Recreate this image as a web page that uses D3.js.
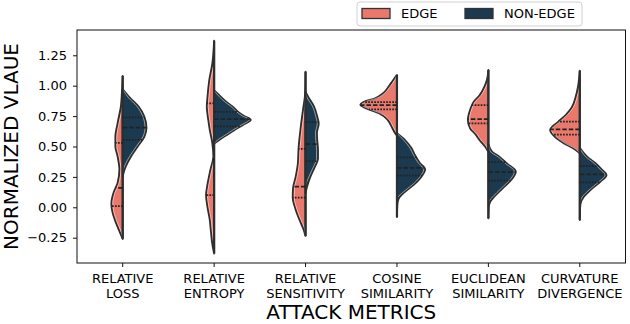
<!DOCTYPE html>
<html>
<head>
<meta charset="utf-8">
<title>Split violins</title>
<script src="https://cdn.jsdelivr.net/npm/d3@7"></script>
<style>
  body { margin: 0; background: #fff; }
  text { font-family: "DejaVu Sans", sans-serif; fill: #000; }
</style>
</head>
<body>
<script>
const metrics = ["RELATIVE\nLOSS", "RELATIVE\nENTROPY", "RELATIVE\nSENSITIVITY", "COSINE\nSIMILARITY", "EUCLIDEAN\nSIMILARITY", "CURVATURE\nDIVERGENCE"];
const groups = ["EDGE", "NON-EDGE"];
const yTicks = [-0.25, 0, 0.25, 0.5, 0.75, 1.0, 1.25];

// density profiles: [value, relative density]
const edgeProfiles = [
  [[1.08,0],[0.95,0.02],[0.83,0.05],[0.69,0.14],[0.58,0.2],[0.5,0.2],[0.42,0.14],[0.31,0.09],[0.2,0.14],[0.12,0.25],[0.03,0.31],[-0.04,0.28],[-0.13,0.18],[-0.21,0.07],[-0.26,0]],
  [[1.37,0],[1.18,0.05],[1.05,0.13],[0.91,0.18],[0.83,0.2],[0.72,0.16],[0.64,0.12],[0.53,0.05],[0.42,0.02],[0.31,0.1],[0.19,0.18],[0.1,0.22],[0.0,0.18],[-0.1,0.12],[-0.19,0.09],[-0.3,0.05],[-0.38,0]],
  [[1.115,0],[0.94,0.01],[0.8,0.07],[0.66,0.13],[0.485,0.19],[0.36,0.21],[0.25,0.27],[0.16,0.34],[0.08,0.35],[-0.01,0.28],[-0.1,0.17],[-0.17,0.07],[-0.235,0]],
  [[1.088,0],[1.047,0.1],[0.987,0.24],[0.937,0.38],[0.896,0.6],[0.868,0.9],[0.843,1.0],[0.814,0.84],[0.773,0.48],[0.718,0.25],[0.66,0.14],[0.61,0.05],[0.59,0]],
  [[1.129,0],[1.047,0.04],[0.99,0.11],[0.92,0.24],[0.868,0.4],[0.8,0.5],[0.718,0.56],[0.65,0.5],[0.6,0.35],[0.553,0.24],[0.5,0.09],[0.455,0]],
  [[1.123,0],[0.99,0.05],[0.91,0.11],[0.82,0.22],[0.76,0.38],[0.7,0.6],[0.636,0.81],[0.58,0.68],[0.526,0.43],[0.48,0.15],[0.445,0]]
];
const nonEdgeProfiles = [
  [[0.97,0],[0.9,0.2],[0.83,0.43],[0.745,0.59],[0.655,0.65],[0.58,0.59],[0.5,0.41],[0.42,0.23],[0.34,0.09],[0.28,0.02],[0.25,0]],
  [[0.96,0],[0.91,0.18],[0.87,0.32],[0.83,0.5],[0.786,0.65],[0.75,0.82],[0.72,1.0],[0.68,0.8],[0.635,0.55],[0.59,0.32],[0.55,0.12],[0.525,0]],
  [[0.95,0],[0.91,0.07],[0.83,0.23],[0.745,0.32],[0.69,0.36],[0.61,0.31],[0.55,0.32],[0.47,0.34],[0.4,0.34],[0.33,0.25],[0.25,0.13],[0.17,0.04],[0.115,0]],
  [[0.609,0],[0.553,0.22],[0.485,0.4],[0.43,0.49],[0.362,0.63],[0.312,0.77],[0.252,0.67],[0.183,0.45],[0.128,0.22],[0.066,0.04],[0.02,0.01],[-0.08,0]],
  [[0.52,0],[0.457,0.1],[0.416,0.3],[0.362,0.5],[0.293,0.75],[0.225,0.62],[0.156,0.39],[0.087,0.16],[0.046,0.05],[0.0,0.01],[-0.09,0]],
  [[0.49,0],[0.416,0.2],[0.362,0.43],[0.307,0.61],[0.266,0.73],[0.21,0.56],[0.142,0.29],[0.087,0.11],[0.03,0.02],[-0.02,0.005],[-0.104,0]]
];
// [Q1, median, Q3]
const edgeQuartiles = [[0.01,0.16,0.53],[0.10,0.395,0.855],[0.08,0.17,0.48],[0.805,0.84,0.865],[0.69,0.725,0.84],[0.597,0.64,0.705]];
const nonEdgeQuartiles = [[0.555,0.655,0.74],[0.665,0.725,0.785],[0.38,0.52,0.70],[0.26,0.325,0.41],[0.22,0.29,0.372],[0.205,0.27,0.338]];

const colors = d3.scaleOrdinal().domain(groups).range(["#e8796c", "#1b3a4f"]);

const W = 630, H = 324;
const plot = { left: 77, right: 625.5, top: 30, bottom: 263 };

const svg = d3.select("body").append("svg")
  .attr("width", W)
  .attr("height", H);

const x = d3.scaleBand().domain(metrics).range([plot.left, plot.right]).padding(0);
const y = d3.scaleLinear().domain([-0.458, 1.458]).range([plot.bottom, plot.top]);
const dens = d3.scaleLinear().domain([0, 1]).range([0, x.bandwidth() * 0.4]);

const halves = [];
metrics.forEach((m, i) => {
  halves.push({ m, group: "EDGE", side: -1, prof: edgeProfiles[i], q: edgeQuartiles[i] });
  halves.push({ m, group: "NON-EDGE", side: 1, prof: nonEdgeProfiles[i], q: nonEdgeQuartiles[i] });
});
const cx = m => x(m) + x.bandwidth() / 2;

const g = svg.append("g");

// half violins
halves.forEach(h => {
  const c = cx(h.m);
  const area = d3.area()
    .curve(d3.curveMonotoneY)
    .y(d => y(d[0]))
    .x0(c)
    .x1(d => c + h.side * dens(d[1]));
  g.append("path")
    .datum(h.prof)
    .attr("d", area)
    .attr("fill", colors(h.group))
    .attr("stroke", "#2e2e2e")
    .attr("stroke-width", 1.9)
    .attr("stroke-linejoin", "round");
  // thin light rim just inside the outline
  const rim = d3.line()
    .curve(d3.curveMonotoneY)
    .y(d => y(d[0]))
    .x(d => c + h.side * Math.max(0, dens(d[1]) - 1.4));
  g.append("path")
    .datum(h.prof)
    .attr("d", rim)
    .attr("fill", "none")
    .attr("stroke", "#fff")
    .attr("stroke-width", 0.6)
    .attr("opacity", 0.85);
});

// centre lines
metrics.forEach((m, i) => {
  const all = edgeProfiles[i].concat(nonEdgeProfiles[i]).map(d => d[0]);
  g.append("line")
    .attr("x1", cx(m)).attr("x2", cx(m))
    .attr("y1", y(d3.max(all))).attr("y2", y(d3.min(all)))
    .attr("stroke", "#2e2e2e")
    .attr("stroke-width", 2.2);
});

// quartile lines
halves.forEach(h => {
  const c = cx(h.m);
  const sorted = h.prof.slice().sort((a, b) => a[0] - b[0]);
  const widthAt = d3.scaleLinear().domain(sorted.map(d => d[0])).range(sorted.map(d => d[1]));
  h.q.forEach((v, k) => {
    g.append("line")
      .attr("x1", c)
      .attr("x2", c + h.side * dens(widthAt(v)))
      .attr("y1", y(v)).attr("y2", y(v))
      .attr("stroke", "#222")
      .attr("stroke-width", 1.7)
      .attr("stroke-dasharray", k === 1 ? "4.5,2" : "1.7,1.3");
  });
});

// frame
svg.append("rect")
  .attr("x", plot.left).attr("y", plot.top)
  .attr("width", plot.right - plot.left).attr("height", plot.bottom - plot.top)
  .attr("fill", "none")
  .attr("stroke", "#111")
  .attr("stroke-width", 1);

// y axis
const yAxis = svg.append("g")
  .attr("transform", `translate(${plot.left},0)`)
  .call(d3.axisLeft(y).tickValues(yTicks).tickFormat(d3.format(".2f")).tickSize(4).tickPadding(6).tickSizeOuter(0));
yAxis.select(".domain").remove();
yAxis.selectAll("text").style("font-size", "13px").attr("fill", "#000");
yAxis.selectAll("line").attr("stroke", "#111");

// x axis
const xAxis = svg.append("g")
  .attr("transform", `translate(0,${plot.bottom})`)
  .call(d3.axisBottom(x).tickSize(4).tickSizeOuter(0).tickFormat(""));
xAxis.select(".domain").remove();
xAxis.selectAll("line").attr("stroke", "#111");
metrics.forEach(m => {
  const t = svg.append("text")
    .attr("text-anchor", "middle")
    .style("font-size", "13px");
  m.split("\n").forEach((line, k) => {
    t.append("tspan").attr("x", cx(m)).attr("y", 282.7 + k * 15).text(line);
  });
});

// axis titles
svg.append("text")
  .attr("x", (plot.left + plot.right) / 2)
  .attr("y", 319)
  .attr("text-anchor", "middle")
  .style("font-size", "20px")
  .text("ATTACK METRICS");
svg.append("text")
  .attr("transform", `translate(17.5,${(plot.top + plot.bottom) / 2}) rotate(-90)`)
  .attr("text-anchor", "middle")
  .style("font-size", "20px")
  .text("NORMALIZED VLAUE");

// legend
const legend = svg.append("g");
legend.append("rect")
  .attr("x", 357).attr("y", 2).attr("width", 225).attr("height", 24).attr("rx", 3)
  .attr("fill", "#fff").attr("fill-opacity", 0.8)
  .attr("stroke", "#d0d0d0");
const legendX = [362, 465];
groups.forEach((grp, i) => {
  legend.append("rect")
    .attr("x", legendX[i]).attr("y", 8.5).attr("width", 28).attr("height", 10)
    .attr("fill", colors(grp)).attr("stroke", "#333").attr("stroke-width", 1.3);
  legend.append("text")
    .attr("x", legendX[i] + 39).attr("y", 18)
    .style("font-size", "13px")
    .text(grp);
});
</script>
</body>
</html>
